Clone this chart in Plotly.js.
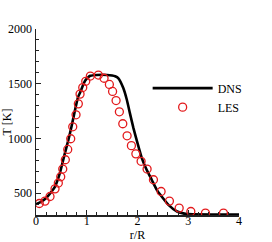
<!DOCTYPE html>
<html><head><meta charset="utf-8">
<script src="https://cdn.plot.ly/plotly-3.0.1.min.js"></script>
<style>html,body{margin:0;padding:0;background:#fff}#plot{width:272px;height:242px}</style>
</head><body><div id="plot"></div>
<script>
const dnsR = [0, 0.1, 0.2, 0.3, 0.375, 0.47, 0.57, 0.64, 0.7, 0.77, 0.83, 0.87, 0.93, 0.97, 1.03, 1.07, 1.2, 1.4, 1.5, 1.56, 1.62, 1.72, 1.79, 1.85, 1.92, 2.0, 2.085, 2.18, 2.28, 2.38, 2.45, 2.61, 2.78, 2.9, 3.0, 3.5, 4.0];
const dnsT = [400, 420, 455, 510, 560, 683, 866, 990, 1109, 1262, 1380, 1420, 1490, 1529, 1560, 1572, 1580, 1580, 1575, 1568, 1551, 1460, 1353, 1231, 1094, 957, 820, 713, 622, 530, 485, 393, 332, 315, 308, 305, 305];
const lesR = [0.065, 0.178, 0.276, 0.375, 0.44, 0.487, 0.527, 0.578, 0.625, 0.684, 0.724, 0.789, 0.834, 0.868, 0.921, 0.98, 1.071, 1.229, 1.341, 1.446, 1.509, 1.578, 1.643, 1.71, 1.795, 1.88, 1.968, 2.071, 2.189, 2.314, 2.465, 2.629, 2.821, 3.051, 3.339, 3.694];
const lesT = [405, 427, 469, 539, 592, 649, 720, 805, 899, 997, 1106, 1216, 1316, 1405, 1465, 1522, 1570, 1579, 1550, 1493, 1429, 1346, 1243, 1134, 1024, 934, 859, 791, 720, 622, 515, 427, 363, 332, 317, 317];
const xTitle = 'r/R';
const yTitle = 'T [K]';

const font = {family: '"Liberation Serif", "Times New Roman", serif', size: 12, color: '#000'};
const traces = [
  {x: dnsR, y: dnsT, name: 'DNS', mode: 'lines', line: {color: '#000', width: 2.6, shape: 'spline', smoothing: 0.5}},
  {x: lesR, y: lesT, name: 'LES', mode: 'markers', marker: {symbol: 'circle-open', size: 8, color: '#e31a1c', line: {width: 1.3, color: '#e31a1c'}}}
];
const axBase = {showgrid: false, zeroline: false, showline: true, linecolor: '#222', linewidth: 1.5,
  ticks: 'inside', ticklen: 5, tickwidth: 1, tickcolor: '#222', tickfont: font, mirror: false};
const layout = {
  width: 272, height: 242, margin: {l: 36, r: 33, t: 29, b: 27},
  paper_bgcolor: '#fff', plot_bgcolor: '#fff', font: font,
  xaxis: Object.assign({}, axBase, {range: [0, 4], dtick: 1, tick0: 0, ticklabelstandoff: -6,
    minor: {ticks: 'inside', ticklen: 3, dtick: 0.2, tickcolor: '#222', tickwidth: 1},
    title: {text: xTitle, font: font, standoff: 1}}),
  yaxis: Object.assign({}, axBase, {range: [300, 2000], dtick: 500, tick0: 0,
    minor: {ticks: 'inside', ticklen: 3, dtick: 100, tickcolor: '#222', tickwidth: 1},
    title: {text: yTitle, font: font, standoff: 2}}),
  showlegend: true,
  legend: {x: 0.55, y: 0.76, xanchor: 'left', yanchor: 'top', bgcolor: 'rgba(0,0,0,0)', font: font,
    itemwidth: 60, tracegroupgap: 0}
};
Plotly.newPlot('plot', traces, layout, {staticPlot: true, displayModeBar: false});
</script></body></html>
